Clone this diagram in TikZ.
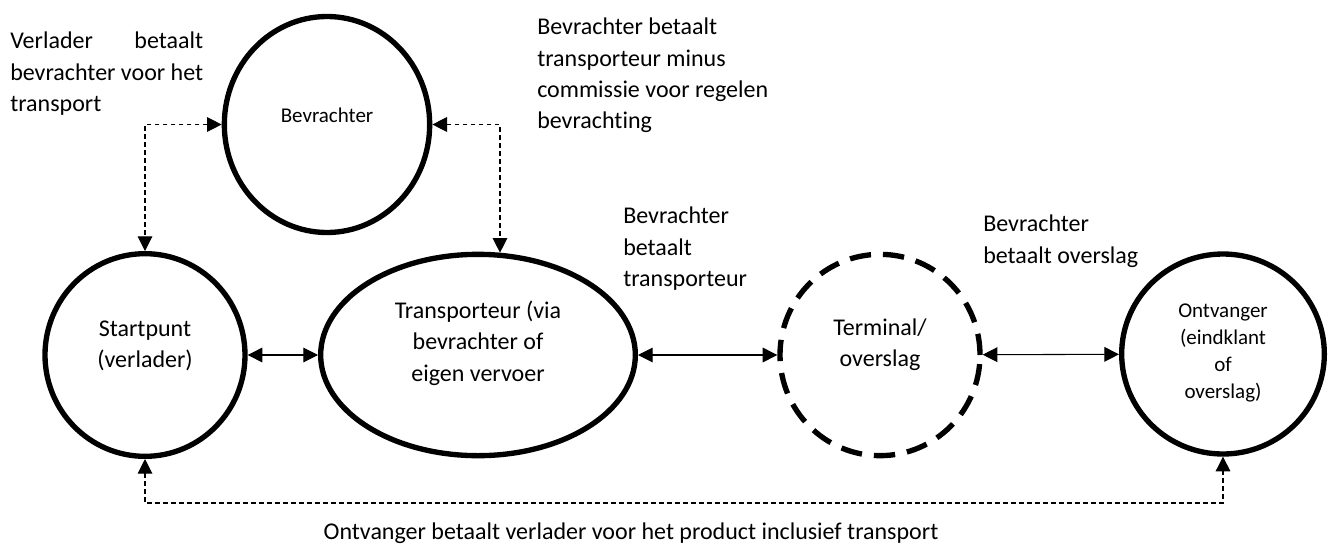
\documentclass[tikz,border=0pt]{standalone}
\usepackage{fontspec}
\setmainfont[Ligatures=NoCommon]{Carlito}
\usetikzlibrary{calc, positioning, shapes.geometric, arrows.meta}

\newcommand{\bigtxt}{\fontsize{18}{23.5}\selectfont}
\newcommand{\smalltxt}{\fontsize{15.75}{20.25}\selectfont}
% stretch #1 to the width of #2
\newcommand{\spreadline}[2]{\setbox0\hbox{#2}\hbox to \wd0{#1}}

\begin{document}
\begin{tikzpicture}[x=0.75pt, y=-0.75pt, >={Triangle[length=11pt,width=11pt]}, font=\bigtxt]
		\tikzstyle{party}=[ellipse, draw=black, line width=4pt, inner sep=0pt]
		\tikzstyle{hub}=[party, dash pattern=on 16pt off 9pt]
		\tikzstyle{txt}=[align=center, inner sep=0pt]
		\tikzstyle{note}=[align=left, inner sep=0pt, anchor=north west]
		\tikzstyle{flow}=[<->, line width=0.8pt]
		\tikzstyle{pay}=[<->, line width=0.8pt, dash pattern=on 3.5pt off 2.5pt]
		
		\useasboundingbox (0,0) rectangle (1333,543);
		
		\node[party, minimum width=154pt, minimum height=162pt] (bev) at (327,124.5) {};
		\node[party, minimum width=150pt, minimum height=152pt] (start) at (145,355) {};
		\node[party, minimum width=236pt, minimum height=151pt] (trans) at (478,355) {};
		\node[hub, minimum width=150pt, minimum height=151pt] (term) at (880,355) {};
		\node[party, minimum width=152pt, minimum height=150pt] (ontv) at (1223,354) {};
		
		\node[txt, font=\smalltxt] (bev-txt) at (327,115) {Bevrachter};
		\node[txt] (start-txt) at (145,346) {Startpunt\\(verlader)};
		\node[txt] (trans-txt) at (478,343) {Transporteur (via\\bevrachter of\\eigen vervoer};
		\node[txt] (term-txt) at (880,345) {Terminal/\\overslag};
		\node[txt, font=\smalltxt] (ontv-txt) at (1223,353) {Ontvanger\\(eindklant\\of\\overslag)};
		
		\path[flow] (start) edge (trans);
		\path[flow] (trans) edge (term);
		\path[flow] (term) edge (ontv);
		
		\draw[pay] (bev.west) -| (start.north);
		\draw[pay] (bev.east) -| ($(trans.north)+(22,1)$);
		\coordinate (paybase) at (631,503);
		\draw[pay] (start.south) |- (paybase) -| (ontv.south);
		
		\node[note] (pay-bev) at (10,32) {\spreadline{Verlader\hfill betaalt}{bevrachter voor het}\\bevrachter voor het\\transport};
		\node[note] (pay-comm) at (537,18) {Bevrachter betaalt\\transporteur minus\\commissie voor regelen\\bevrachting};
		\node[note] (pay-trans) at (623,207) {Bevrachter\\betaalt\\transporteur};
		\node[note] (pay-term) at (983,215) {Bevrachter\\betaalt overslag};
		\node[anchor=base, inner sep=0pt] (pay-ontv) at ($(paybase)+(0,36)$) {Ontvanger betaalt verlader voor het product inclusief transport};
\end{tikzpicture}
\end{document}
